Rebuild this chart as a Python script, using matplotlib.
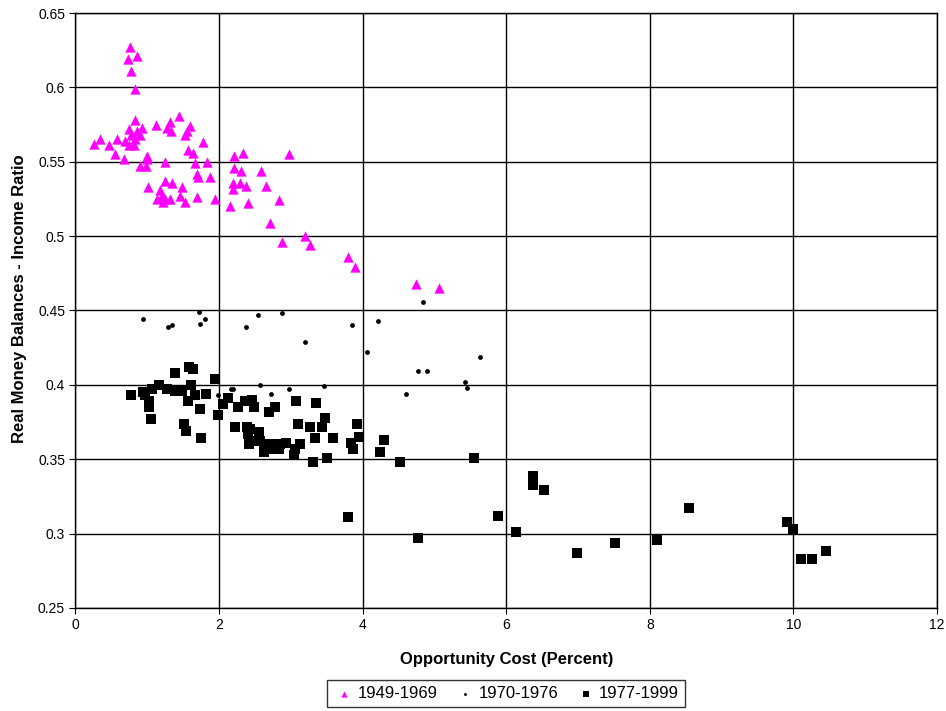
import matplotlib
matplotlib.use("Agg")
import matplotlib.pyplot as plt
from matplotlib.ticker import FuncFormatter

plt.rcParams['font.family'] = ['Liberation Sans', 'DejaVu Sans']

# 1949-1969
x_4969 = [0.76, 0.73, 0.85, 0.78, 0.83, 0.83, 1.44, 1.12, 1.31, 1.28, 1.33, 1.59, 1.55, 1.53,
          0.74, 0.92, 0.85, 0.90, 0.78, 0.83, 0.69, 0.74, 0.81, 0.34, 0.26, 0.47, 0.58, 0.55,
          0.67, 0.99, 1.00, 0.90, 0.98, 1.25, 1.57, 1.64, 1.77, 1.67, 1.83, 1.69, 1.71, 1.87,
          1.24, 1.35, 1.48, 1.01, 1.18, 1.20, 1.13, 1.24, 1.31, 1.22, 1.46, 1.53, 1.69, 1.94,
          2.15, 2.40, 2.84, 2.21, 2.33, 2.98, 2.21, 2.30, 2.59, 2.19, 2.29, 2.37, 2.20, 2.66,
          2.71, 2.87, 3.19, 3.27, 3.79, 3.90, 4.74, 5.07]
y_4969 = [0.627, 0.619, 0.621, 0.611, 0.599, 0.578, 0.581, 0.575, 0.577, 0.573, 0.571, 0.574, 0.571, 0.568,
          0.572, 0.573, 0.571, 0.568, 0.568, 0.565, 0.564, 0.561, 0.561, 0.565, 0.562, 0.561, 0.565, 0.555,
          0.552, 0.554, 0.552, 0.547, 0.547, 0.550, 0.558, 0.556, 0.563, 0.549, 0.550, 0.542, 0.540, 0.540,
          0.537, 0.536, 0.533, 0.533, 0.531, 0.527, 0.525, 0.525, 0.525, 0.523, 0.527, 0.523, 0.526, 0.525,
          0.520, 0.522, 0.524, 0.554, 0.556, 0.555, 0.546, 0.544, 0.544, 0.536, 0.536, 0.534, 0.532, 0.534,
          0.509, 0.496, 0.500, 0.494, 0.486, 0.479, 0.468, 0.465]

# 1970-1976
x_7076 = [0.94, 1.29, 1.35, 1.72, 1.74, 1.80, 2.37, 2.54, 2.87, 3.19, 1.63, 1.98, 2.17, 2.19,
          2.57, 2.73, 2.97, 3.46, 4.84, 3.85, 4.21, 4.06, 5.64, 4.77, 4.90, 5.42, 5.46, 4.61]
y_7076 = [0.444, 0.439, 0.440, 0.449, 0.441, 0.444, 0.439, 0.447, 0.448, 0.429, 0.400, 0.393, 0.397, 0.397,
          0.400, 0.394, 0.397, 0.399, 0.456, 0.440, 0.443, 0.422, 0.419, 0.409, 0.409, 0.402, 0.398, 0.394]

# 1977-1999
x_7799 = [0.78, 0.94, 0.97, 1.06, 1.17, 1.28, 1.39, 1.48, 1.02, 1.02, 1.05, 1.39, 1.58, 1.64,
          1.61, 1.67, 1.57, 1.82, 1.95, 1.73, 1.51, 1.54, 1.75, 1.98, 2.06, 2.13, 2.26, 2.36,
          2.46, 2.49, 2.22, 2.39, 2.43, 2.40, 2.55, 2.41, 2.52, 2.57, 2.62, 2.64, 2.62, 2.72,
          2.78, 2.85, 2.93, 2.71, 2.84, 3.06, 3.04, 3.13, 2.70, 2.78, 3.07, 3.35, 3.10, 3.27,
          3.44, 3.47, 3.34, 3.59, 3.31, 3.51, 3.84, 3.87, 3.92, 3.95, 4.30, 4.24, 4.52, 5.55,
          6.37, 6.37, 6.52, 3.80, 4.77, 5.88, 6.14, 6.99, 7.52, 8.10, 8.54, 9.91, 10.00, 10.10,
          10.26, 10.46]
y_7799 = [0.393, 0.395, 0.393, 0.397, 0.400, 0.397, 0.396, 0.396, 0.389, 0.385, 0.377, 0.408, 0.412, 0.411,
          0.400, 0.393, 0.389, 0.394, 0.404, 0.384, 0.374, 0.369, 0.364, 0.380, 0.387, 0.391, 0.385, 0.389,
          0.390, 0.385, 0.372, 0.372, 0.370, 0.367, 0.368, 0.360, 0.362, 0.362, 0.360, 0.357, 0.355, 0.360,
          0.360, 0.360, 0.361, 0.357, 0.357, 0.357, 0.353, 0.360, 0.382, 0.385, 0.389, 0.388, 0.374, 0.372,
          0.372, 0.378, 0.364, 0.364, 0.348, 0.351, 0.361, 0.357, 0.374, 0.365, 0.363, 0.355, 0.348, 0.351,
          0.339, 0.333, 0.329, 0.311, 0.297, 0.312, 0.301, 0.287, 0.294, 0.296, 0.317, 0.308, 0.303, 0.283,
          0.283, 0.288]

fig = plt.figure(figsize=(9.46, 7.11), dpi=100)
ax = fig.add_axes([0.0798, 0.1449, 0.9107, 0.8368])

ax.scatter(x_4969, y_4969, marker='^', s=55, color='#ff00ff', linewidths=0, label='1949-1969', zorder=3)
ax.scatter(x_7076, y_7076, marker='o', s=12, color='black', linewidths=0, label='1970-1976', zorder=3)
ax.scatter(x_7799, y_7799, marker='s', s=50, color='black', linewidths=0, label='1977-1999', zorder=3)

ax.set_xlim(0, 12)
ax.set_ylim(0.25, 0.65)
ax.set_xticks(range(0, 13, 2))
ax.set_yticks([0.25, 0.3, 0.35, 0.4, 0.45, 0.5, 0.55, 0.6, 0.65])
ax.yaxis.set_major_formatter(FuncFormatter(lambda v, p: ('%.2f' % v).rstrip('0')))
ax.grid(True, color='black', linewidth=1)
ax.set_axisbelow(True)
for s in ax.spines.values():
    s.set_color('black')
    s.set_linewidth(1)
ax.tick_params(labelsize=10, length=4, direction='out')

ax.set_xlabel('Opportunity Cost (Percent)', fontsize=12, fontweight='bold', labelpad=14)
ax.set_ylabel('Real Money Balances - Income Ratio', fontsize=12, fontweight='bold')
ax.yaxis.set_label_coords(-0.056, 0.52)

leg = fig.legend(loc='lower center', bbox_to_anchor=(0.535, -0.006), ncol=3, fontsize=12,
                 frameon=True, fancybox=False, edgecolor='black', handletextpad=0.15,
                 columnspacing=1.0, markerscale=0.6, borderpad=0.35, handlelength=1.3)
leg.get_frame().set_linewidth(1)

fig.savefig('out.png', dpi=100)
